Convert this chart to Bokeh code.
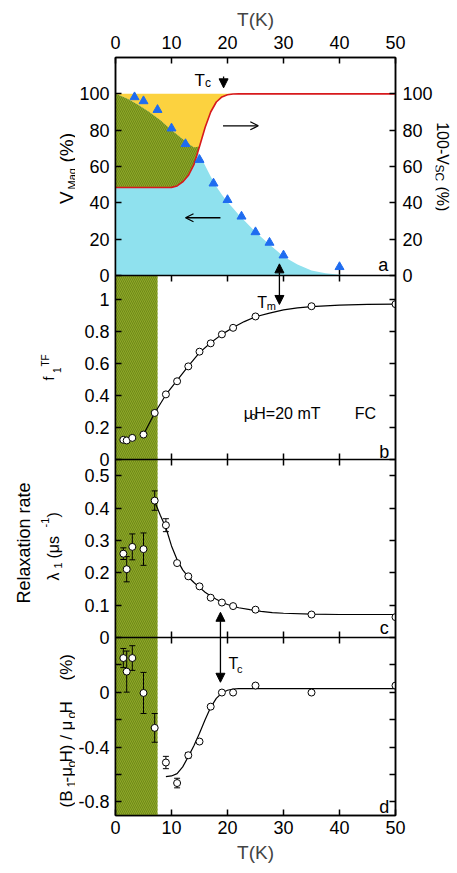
import numpy as np
from bokeh.plotting import figure
from bokeh.models import (Range1d, LinearAxis, FixedTicker, Label, Arrow, NormalHead, OpenHead,
                          BoxAnnotation, ColumnDataSource, Whisker, TeeHead, Span)
from bokeh.layouts import row
from bokeh.core.properties import value
from bokeh.embed import file_html
from bokeh.resources import INLINE

FONT = "Liberation Sans"

# ---------------- data ----------------
t_ticks = [0, 10, 20, 30, 40, 50]

# panel a : magnetic volume fraction (triangles) and 100 - V_SC (red line)
tri_T = [3.4, 5, 7.5, 10, 12.5, 15, 17.5, 20, 22.5, 25, 27.5, 30, 40]
tri_V = [98.2, 96, 91.2, 81, 72.4, 63.7, 50.7, 41.6, 32.5, 23.9, 18.1, 11.1, 4.7]
grid_T = [0, 2, 4, 6, 8, 10, 11, 12, 13, 14, 15, 16, 17, 18, 19, 20, 21, 22,
          25, 27.5, 30, 32.5, 35, 37.5, 40, 45, 50]
vmag_edge = [100, 97.5, 94, 90, 85.5, 80, 77.5, 75, 72.5, 70.5, 66.5, 60.5, 54.5, 49,
             44.5, 40.5, 37, 33.5, 24, 17, 10.5, 6, 2.8, 1.3, 0.4, 0, 0]
sc_curve = [48.4, 48.4, 48.4, 48.4, 48.4, 48.5, 49.3, 51.5, 55, 61, 71, 81.5, 90, 95.5,
            98.3, 99.5, 99.9, 100, 100, 100, 100, 100, 100, 100, 100, 100, 100]

# panels b-d : muSR data
T_pts = [1.4, 2, 3, 5, 7, 9, 11, 13, 15, 17, 19, 21, 25, 35, 50]
f1 = [0.123, 0.119, 0.135, 0.156, 0.291, 0.407, 0.489, 0.582, 0.674, 0.726, 0.782,
      0.823, 0.894, 0.958, 0.971]
lam = [0.259, 0.211, 0.28, 0.273, 0.423, 0.347, 0.23, 0.189, 0.158, 0.123, 0.108,
       0.097, 0.086, 0.071, 0.063]
lam_err = [0.018, 0.039, 0.04, 0.05, 0.03, 0.02, 0, 0, 0, 0, 0, 0, 0, 0, 0]
shift = [0.25, 0.151, 0.25, -0.005, -0.26, -0.513, -0.663, -0.46, -0.36, -0.105,
         -0.002, -0.002, 0.049, -0.002, 0.049]
shift_err = [0.07, 0.15, 0.09, 0.15, 0.105, 0.045, 0.035, 0.02, 0, 0, 0, 0, 0, 0, 0]

fitb_T = [5, 7, 9, 11, 13, 15, 17, 19, 21, 23, 25, 27.5, 30, 32.5, 35, 40, 45, 50]
fitb = [0.156, 0.291, 0.405, 0.495, 0.583, 0.668, 0.73, 0.782, 0.825, 0.862, 0.892,
        0.915, 0.935, 0.948, 0.956, 0.965, 0.969, 0.971]
fitc_T = [7, 8, 9, 10, 11, 12, 13, 14, 15, 16, 17, 18, 19, 20, 22, 24, 26, 28, 30, 35, 40, 50]
fitc = [0.42, 0.378, 0.339, 0.283, 0.24, 0.209, 0.187, 0.17, 0.155, 0.14, 0.128, 0.118,
        0.109, 0.102, 0.092, 0.086, 0.081, 0.077, 0.075, 0.072, 0.071, 0.071]
fitd_T = [9, 10, 11, 12, 13, 14, 15, 16, 17, 18, 19, 20, 21, 22, 25, 30, 40, 50]
fitd = [-0.616, -0.611, -0.594, -0.545, -0.47, -0.39, -0.3, -0.2, -0.11, -0.045, -0.005,
        0.015, 0.024, 0.027, 0.027, 0.027, 0.027, 0.027]

afm_region = [0, 7.5]

# axis limits and ticks of each panel
ylim = {"a": (0, 120), "b": (0, 1.15), "c": (0, 0.55), "d": (-0.9, 0.4)}
yticks = {
    "a": ([0, 20, 40, 60, 80, 100], ["0", "20", "40", "60", "80", "100"]),
    "b": ([0, 0.2, 0.4, 0.6, 0.8, 1.0], ["0", "0.2", "0.4", "0.6", "0.8", "1"]),
    "c": ([0, 0.1, 0.2, 0.3, 0.4, 0.5], ["0", "0.1", "0.2", "0.3", "0.4", "0.5"]),
    "d": ([-0.8, -0.6, -0.4, -0.2, 0, 0.2], ["-0.8", "", "-0.4", "", "0", ""]),
}

GREEN = "#8fa927"
HATCH = "#667f16"

# ---------------- layout geometry (pixels) ----------------
LW = 75           # left title strip
RW = 22           # right title strip
MW = 457 - LW - RW
TOP, BOT = 57, 58
FH = 873 - TOP - BOT   # frame height of main figure (57 .. 815)
band = {"a": (540, 758), "b": (356, 540), "c": (178, 356), "d": (0, 178)}


def scale(k):
    lo, hi = ylim[k]
    b0, b1 = band[k]
    return (b1 - b0) / (hi - lo)


def to_px(k, v):
    return band[k][0] + (v - ylim[k][0]) * scale(k)


main = figure(width=MW, height=873, x_range=Range1d(0, 50), y_range=Range1d(0, FH),
              x_axis_location=None, y_axis_location=None, toolbar_location=None,
              output_backend="svg", min_border_left=114 - LW,
              min_border_right=(457 - RW) - 396,
              min_border_top=TOP, min_border_bottom=BOT,
              background_fill_color="white", border_fill_color="white",
              outline_line_color="black", outline_line_width=1.5)
main.grid.visible = False
for k in "abcd":
    s = scale(k)
    lo, hi = ylim[k]
    b0, b1 = band[k]
    main.extra_y_ranges[k] = Range1d(lo - b0 / s, hi + (FH - b1) / s)

# ----- combined axes -----
left_pos, left_lab, right_lab = [], [], []
for k in "abcd":
    vals, labs = yticks[k]
    for v, l in zip(vals, labs):
        pos = round(to_px(k, v), 6)
        left_pos.append(pos)
        left_lab.append(l)
        right_lab.append(l if k == "a" else "")


def axis(side, ticks, labels, show, standoff=6, label=None, lstand=5):
    ax = LinearAxis(ticker=FixedTicker(ticks=ticks), major_tick_in=6, major_tick_out=0,
                    minor_tick_line_color=None, axis_line_width=1.5,
                    major_tick_line_width=1.5, major_label_text_font=FONT,
                    major_label_text_font_size="18px" if show else "0px",
                    major_label_text_color="black",
                    major_label_standoff=standoff if show else 0)
    if labels is not None:
        ax.major_label_overrides = dict(zip(ticks, labels))
    if label:
        ax.axis_label = label
        ax.axis_label_text_font = FONT
        ax.axis_label_text_font_size = "19px"
        ax.axis_label_text_font_style = "normal"
        ax.axis_label_standoff = lstand
    main.add_layout(ax, side)


axis("left", left_pos, left_lab, True, standoff=6)
axis("right", left_pos, right_lab, True, standoff=7)
axis("above", t_ticks, None, True, standoff=9, label="T(K)", lstand=3)
axis("below", t_ticks, None, True, standoff=5, label="T(K)", lstand=5)

# panel separators with inward ticks on both sides
for k in "abc":
    main.add_layout(Span(location=ylim[k][0], dimension="width", y_range_name=k,
                         line_color="black", line_width=1.5))
    main.scatter(t_ticks[1:-1], [ylim[k][0]] * 4, y_range_name=k, marker="dash",
                 angle=np.pi / 2, size=12, line_color="black", line_width=1.5)


def dlabel(k, text, x, y, size, align="left", baseline="alphabetic"):
    main.add_layout(Label(x=x, y=y, y_range_name=k, text=text, text_font=FONT,
                          text_font_size=f"{size}px", text_align=align,
                          text_baseline=baseline, text_color="black"))


def arrow(k, x0, y0, x1, y1, head="normal", size=9, both=False):
    if head == "normal":
        mk = lambda: NormalHead(size=size, fill_color="black", line_color="black", line_width=1)
    else:
        mk = lambda: OpenHead(size=size, line_color="black", line_width=1.2)
    main.add_layout(Arrow(x_start=x0, y_start=y0, x_end=x1, y_end=y1, end=mk(),
                          start=mk() if both else None, y_range_name=k,
                          line_color="black", line_width=1.3))


# ================= panel a =================
main.varea(x=grid_T, y1=sc_curve, y2=100, y_range_name="a", fill_color="#fcd23f")
main.varea(x=grid_T, y1=0, y2=vmag_edge, y_range_name="a", fill_color="#8fe1ee")
main.varea(x=grid_T, y1=sc_curve,
           y2=np.maximum(np.array(sc_curve), np.array(vmag_edge)), y_range_name="a",
           fill_color=GREEN, hatch_pattern="\\", hatch_color=HATCH, hatch_scale=4,
           hatch_weight=0.8)
main.line(grid_T, sc_curve, y_range_name="a", line_color="#d7191c", line_width=1.6)
main.scatter(tri_T, tri_V, y_range_name="a", marker="triangle", size=9,
             fill_color="#1f6cf0", line_color="#1f6cf0")

dlabel("a", "T", 14.1, 107.3, 17)
dlabel("a", "c", 16.0, 106.0, 12)
arrow("a", 19.3, 109.5, 19.3, 103.3)
arrow("a", 19.2, 82.4, 25.5, 82.4, head="open", size=8)
arrow("a", 18.74, 31.8, 12.5, 31.8, head="open", size=8)
dlabel("a", "a", 47.8, 5.7, 18, align="center", baseline="middle")

# T_m double arrow across panels a and b
arrow("default", 29.27, to_px("b", 0.969), 29.27, to_px("a", 6.4), both=True)

# green (magnetic) band in panels b-d
for k in "bcd":
    main.add_layout(BoxAnnotation(left=afm_region[0], right=afm_region[1],
                                  bottom=ylim[k][0], top=ylim[k][1], y_range_name=k,
                                  fill_color=GREEN, fill_alpha=1, line_color=None,
                                  hatch_pattern="\\", hatch_color=HATCH, hatch_scale=4,
                                  hatch_weight=0.8, level="underlay"))

# ================= panel b =================
main.line(fitb_T, fitb, y_range_name="b", line_color="black", line_width=1.2)
main.scatter(T_pts, f1, y_range_name="b", size=7, fill_color="white",
             line_color="black", line_width=1)
dlabel("b", "T", 25.3, 0.983, 16)
dlabel("b", "m", 27.0, 0.9625, 11)
dlabel("b", "\u03bc", 22.88, 0.2856, 16)
dlabel("b", "o", 24.07, 0.269, 11)
dlabel("b", "H=20 mT", 24.78, 0.2856, 16)
dlabel("b", "FC", 42.72, 0.2856, 16)
dlabel("b", "b", 48.0, 0.047, 18, align="center", baseline="middle")


# ================= panel c =================
def whiskers(k, vals, errs):
    v = np.array(vals)
    e = np.array(errs)
    m = e > 0
    src = ColumnDataSource(dict(T=np.array(T_pts)[m], lo=(v - e)[m], hi=(v + e)[m]))
    main.add_layout(Whisker(source=src, base="T", lower="lo", upper="hi", y_range_name=k,
                            line_width=1, line_color="black", level="underlay",
                            upper_head=TeeHead(size=6, line_width=1, line_color="black"),
                            lower_head=TeeHead(size=6, line_width=1, line_color="black")))


whiskers("c", lam, lam_err)
main.line(fitc_T, fitc, y_range_name="c", line_color="black", line_width=1.2)
main.scatter(T_pts, lam, y_range_name="c", size=7, fill_color="white",
             line_color="black", line_width=1)
dlabel("c", "c", 48.0, 0.028, 18, align="center", baseline="middle")

# T_c double arrow across panels c and d
arrow("default", 18.74, to_px("d", 0.073), 18.74, to_px("c", 0.078), both=True)

# ================= panel d =================
whiskers("d", shift, shift_err)
main.line(fitd_T, fitd, y_range_name="d", line_color="black", line_width=1.2)
main.scatter(T_pts, shift, y_range_name="d", size=7, fill_color="white",
             line_color="black", line_width=1)
dlabel("d", "T", 20.2, 0.208, 16)
dlabel("d", "c", 21.7, 0.173, 11)
dlabel("d", "d", 48.0, -0.841, 18, align="center", baseline="middle")


# ================= title strips =================
# each strip has the same frame rows as the main plot (57..815); its y data
# coordinate is (873 - page y), so texts are placed by their page position.
def strip(width, x0):
    f = figure(width=width, height=873, x_range=Range1d(x0, x0 + width),
               y_range=Range1d(873 - (TOP + FH), 873 - TOP), x_axis_location=None,
               y_axis_location=None, toolbar_location=None, output_backend="svg",
               min_border_left=0, min_border_right=0, min_border_top=TOP,
               min_border_bottom=BOT, outline_line_color=None,
               background_fill_color="white", border_fill_color="white")
    f.grid.visible = False
    return f


def ptext(f, txt, gx, gy, size, angle):
    f.text(x=[gx], y=[873 - gy], text=[txt], angle=angle, text_font=value(FONT),
           text_font_size=f"{size}px", text_align="left", text_baseline="alphabetic",
           text_color="black")


UP = np.pi / 2
DOWN = -np.pi / 2

lf = strip(LW, 0)
# panel a
ptext(lf, "V", 66, 203.5, 19, UP)
ptext(lf, "Mag", 71, 189, 11, UP)
ptext(lf, "(%)", 66, 162, 19, UP)
# panel b
ptext(lf, "f", 48, 380, 14, UP)
ptext(lf, "1", 56, 372.5, 10, UP)
ptext(lf, "TF", 45, 366, 10, UP)
# panel c
ptext(lf, "Relaxation rate", 23, 603, 18, UP)
ptext(lf, "\u03bb", 53, 580, 16, UP)
ptext(lf, "1", 57, 568, 11, UP)
ptext(lf, "(\u03bcs", 53, 558, 16, UP)
ptext(lf, "-1", 44, 527, 11, UP)
ptext(lf, ")", 53, 517, 16, UP)
# panel d
ptext(lf, "(B", 66, 807, 17, UP)
ptext(lf, "1", 71, 787, 12, UP)
ptext(lf, "-\u03bc", 66, 782, 17, UP)
ptext(lf, "o", 71, 767, 12, UP)
ptext(lf, "H) / \u03bc", 66, 762, 17, UP)
ptext(lf, "o", 71, 718, 12, UP)
ptext(lf, "H", 66, 713, 17, UP)
ptext(lf, "(%)", 66, 680, 17, UP)

rf = strip(RW, 457 - RW)
ptext(rf, "100-V", 442, 121.7, 16, DOWN)
ptext(rf, "SC", 438, 164, 12, DOWN)
ptext(rf, "(%)", 442, 186, 16, DOWN)

layout = row(lf, main, rf, spacing=0)
open("out.html", "w").write(file_html(layout, INLINE))
